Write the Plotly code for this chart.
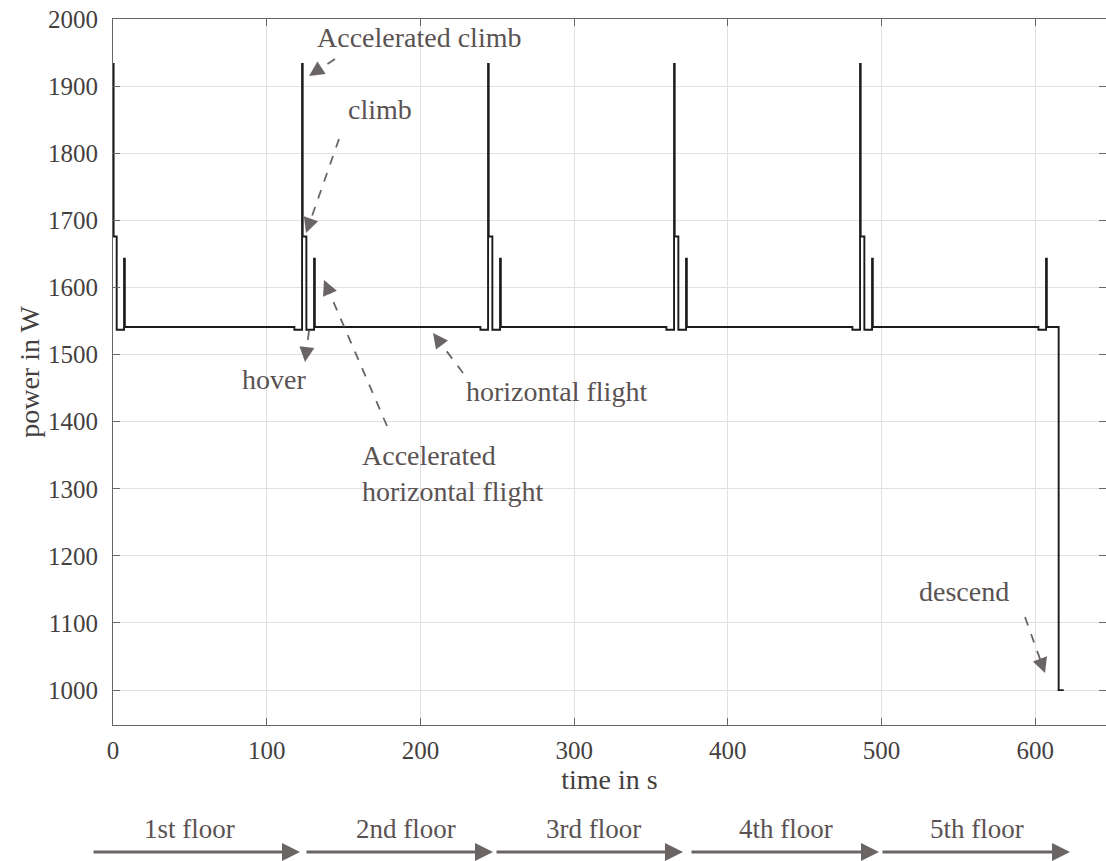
import plotly.graph_objects as go

# ---- data ----
time_s = [0, 0.4, 2.4, 7.2, 7.7,
          118, 123, 123.4, 125.8, 130.8, 131.3,
          239, 244, 244.4, 246.8, 251.8, 252.3,
          360, 365, 365.4, 367.8, 372.8, 373.3,
          481, 486, 486.4, 488.8, 493.8, 494.3,
          602, 607, 607.5, 615.2, 618.5]
power_w = [1933, 1676, 1537, 1643, 1541,
           1537, 1933, 1676, 1537, 1643, 1541,
           1537, 1933, 1676, 1537, 1643, 1541,
           1537, 1933, 1676, 1537, 1643, 1541,
           1537, 1933, 1676, 1537, 1643, 1541,
           1537, 1643, 1541, 1000, 1000]
x_ticks = [0, 100, 200, 300, 400, 500, 600]
y_ticks = [1000, 1100, 1200, 1300, 1400, 1500, 1600, 1700, 1800, 1900, 2000]
floors = ["1st floor", "2nd floor", "3rd floor", "4th floor", "5th floor"]

# ---- layout geometry (pixels) ----
W, H = 1106, 861
ML, MR, MT, MB = 113, 0, 19, 136
PW, PH = W - ML - MR, H - MT - MB


def px(xp):
    return (xp - ML) / PW


def py(yp):
    return (H - MB - yp) / PH


TXT = "#5a5252"
ARR = "#6a6464"
FONT = "Liberation Serif"
DARK = "#453f3f"

fig = go.Figure()
fig.add_trace(go.Scatter(x=time_s, y=power_w, mode="lines", line_shape="hv",
                         line=dict(color="#1c1a1a", width=1.9),
                         showlegend=False, hoverinfo="skip"))

shapes = []
annotations = []

# labelled dashed arrows: (text, text_x, text_y, anchor, tail(px), tip(px))
labels = [
    ("Accelerated climb", 419, 38, "center", (335, 59), (309, 76)),
    ("climb", 380, 109, "center", (339, 139), (306, 233)),
    ("hover", 274, 379, "center", (309, 331), (305, 362)),
    ("horizontal flight", 556, 391, "center", (463, 373), (433, 333)),
    ("Accelerated<br>horizontal flight", 360, 473, "left", (387, 426), (324, 280)),
    ("descend", 964, 591, "center", (1025, 617), (1045, 673)),
]
for text, tx, ty, anc, tail, tip in labels:
    annotations.append(dict(text=text, x=px(tx), y=py(ty), xref="paper", yref="paper",
                            xanchor=anc, yanchor="middle", align="left", showarrow=False,
                            font=dict(family=FONT, size=28, color=TXT)))
    dx, dy = tail[0] - tip[0], tail[1] - tip[1]
    L = (dx * dx + dy * dy) ** 0.5
    ux, uy = dx / L, dy / L
    hl = 13
    shapes.append(dict(type="line", xref="paper", yref="paper",
                       x0=px(tail[0]), y0=py(tail[1]),
                       x1=px(tip[0] + ux * hl), y1=py(tip[1] + uy * hl),
                       line=dict(color=ARR, width=1.8, dash="dash")))
    annotations.append(dict(text="", x=px(tip[0]), y=py(tip[1]), xref="paper", yref="paper",
                            ax=ux * (hl + 2), ay=uy * (hl + 2), showarrow=True,
                            arrowhead=2, arrowsize=1.5, arrowwidth=2, arrowcolor=ARR))

# floor arrows under the axis
floor_segments = [(92, 300), (305, 493), (495, 683), (690, 879), (881, 1070)]
floor_label_x = [189, 406, 593, 786, 977]
for name, (a, b), lx in zip(floors, floor_segments, floor_label_x):
    annotations.append(dict(text=name, x=px(lx), y=py(829), xref="paper", yref="paper",
                            xanchor="center", yanchor="middle", showarrow=False,
                            font=dict(family=FONT, size=27, color=TXT)))
    annotations.append(dict(text="", x=px(b), y=py(852), xref="paper", yref="paper",
                            ax=-(b - a), ay=0, showarrow=True, arrowhead=2,
                            arrowsize=1.2, arrowwidth=3, arrowcolor=ARR))

axis_common = dict(showline=True, linecolor="#6b6565", linewidth=1.2, mirror="ticks",
                   ticks="inside", ticklen=7, tickcolor="#6b6565", tickwidth=1.2,
                   showgrid=True, gridcolor="#e3dfdf", gridwidth=1, zeroline=False,
                   tickfont=dict(family=FONT, size=25, color=DARK))

fig.update_xaxes(range=[0, 646], tickvals=x_ticks, ticklabelstandoff=3,
                 title=dict(text="time in s", font=dict(family=FONT, size=28, color=DARK),
                            standoff=0),
                 **axis_common)
fig.update_yaxes(range=[948, 2000], tickvals=y_ticks, ticklabelstandoff=9,
                 title=dict(text="power in W", font=dict(family=FONT, size=28, color=DARK),
                            standoff=0),
                 **axis_common)

fig.update_layout(width=W, height=H, margin=dict(l=ML, r=MR, t=MT, b=MB, autoexpand=False),
                  font=dict(family=FONT, color=DARK),
                  plot_bgcolor="white", paper_bgcolor="white",
                  shapes=shapes, annotations=annotations, showlegend=False)

fig.write_html("out.html")
